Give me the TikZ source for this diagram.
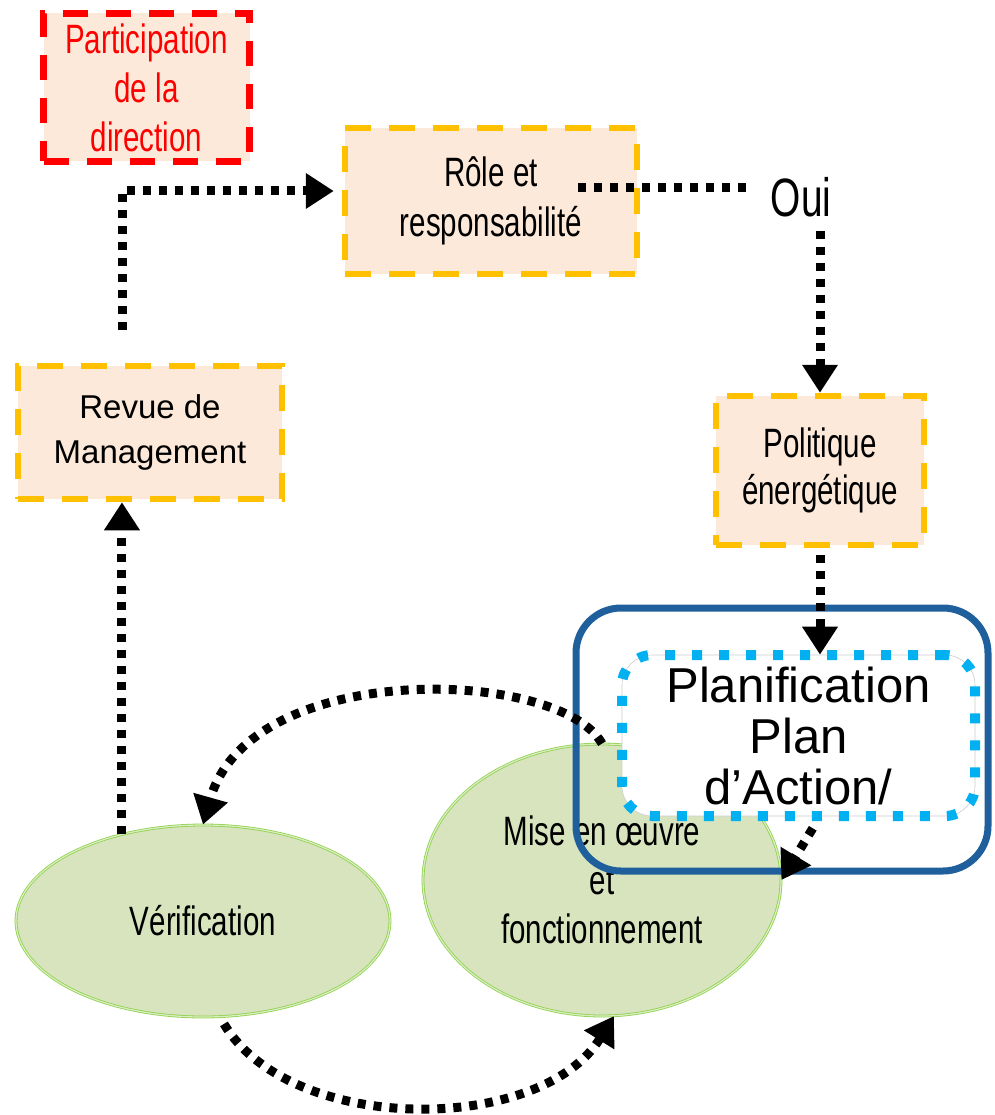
\documentclass[tikz,border=0pt]{standalone}
\usepackage{fontspec}
\setmainfont{Liberation Sans}
\newfontfamily\narrowfont[FakeStretch=0.72]{Liberation Sans}
\usetikzlibrary{arrows.meta}
\usetikzlibrary{shapes.geometric}

\definecolor{boxfill}{HTML}{FCE9D9}
\definecolor{boxyellow}{HTML}{FFC000}
\definecolor{boxred}{HTML}{FF0000}
\definecolor{ovalfill}{HTML}{D7E4BD}
\definecolor{ovalgreen}{HTML}{92D050}
\definecolor{planblue}{HTML}{1F5F9B}
\definecolor{plancyan}{HTML}{00B0F0}

\tikzset{
  stagebox/.style={rectangle, fill=boxfill, draw=boxyellow, line width=6.5pt,
    dash pattern=on 26pt off 18pt, align=center, inner sep=0pt},
  redbox/.style={stagebox, draw=boxred, line width=7pt, dash pattern=on 25pt off 18pt},
  stageoval/.style={ellipse, fill=ovalfill, draw=ovalgreen, line width=0.8pt,
    double=ovalgreen!35!white, double distance=1.2pt, align=center, inner sep=0pt},
  narrowtext/.style={font=\narrowfont\fontsize{41}{49}\selectfont},
  flow/.style={draw=black, line width=9pt, dash pattern=on 8pt off 8pt},
  tip/.style={-{Triangle[length=28pt,width=34pt]}}
}

\begin{document}
\begin{tikzpicture}[x=1pt, y=-1pt]
  \useasboundingbox (0,0) rectangle (994,1115);

  % Ellipses of the cycle
  \node[stageoval, minimum width=374pt, minimum height=192pt, narrowtext] (verif) at (203,921) {Vérification};
  \node[stageoval, minimum width=358pt, minimum height=272pt, narrowtext] (mise) at (602,880)
    {Mise en œuvre\\et\\fonctionnement};

  % Boxes
  \node[redbox, minimum width=206pt, minimum height=148pt, text=boxred, narrowtext] (direction) at (146.5,87.5)
    {Participation\\de la\\direction};
  \node[stagebox, minimum width=292pt, minimum height=146pt,
    font=\narrowfont\fontsize{41}{50}\selectfont] (role) at (491,201) {Rôle et\\responsabilité};
  \node[stagebox, minimum width=264pt, minimum height=133pt,
    font=\fontsize{33}{45}\selectfont] (revue) at (150,432.5) {Revue de\\Management};
  \node[stagebox, minimum width=208pt, minimum height=149pt,
    font=\narrowfont\fontsize{41}{47}\selectfont] (polit) at (820,470.5) {Politique\\énergétique};

  % Planning block
  \draw[planblue, line width=7pt, rounded corners=45pt] (576,608) rectangle (988,871);
  \node[rectangle, rounded corners=30pt, fill=white, draw=gray!40, line width=0.6pt,
    minimum width=353pt, minimum height=161pt, inner sep=0pt, align=center,
    font=\fontsize{49}{51}\selectfont,
    postaction={draw=plancyan, line width=10pt, dash pattern=on 10pt off 17pt}]
    (plan) at (798.5,735.5) {Planification\\Plan\\d’Action/};

  % Oui
  \node[font=\narrowfont\fontsize{54}{60}\selectfont, inner sep=2pt] (oui) at (801,197) {Oui};

  % Connectors
  \coordinate (loopstart) at (122,330);
  \coordinate (rolemid) at (578,188);
  \draw[flow, tip, shorten >=8pt] (loopstart) |- ([yshift=10pt]role.west);
  \draw[flow] (rolemid) -- ([xshift=-22pt]rolemid -| oui.west);
  \draw[flow, tip] ([yshift=-12pt]oui.south -| polit.north) -- (polit.north);
  \draw[flow, tip, shorten <=7pt] (polit.south) -- (polit.south |- plan.north);
  \draw[flow, tip, shorten <=14pt] (polit.south |- plan.south) -- (mise.east);
  \draw[flow, tip] (mise.north) .. controls (560,668) and (250,658) .. (verif.north);
  \draw[flow, tip, shorten <=8pt] (verif.280) .. controls (290,1135) and (540,1135) .. (mise.275);
  \draw[flow, tip] (verif.133) -- (verif.133 |- revue.south);

\end{tikzpicture}
\end{document}
